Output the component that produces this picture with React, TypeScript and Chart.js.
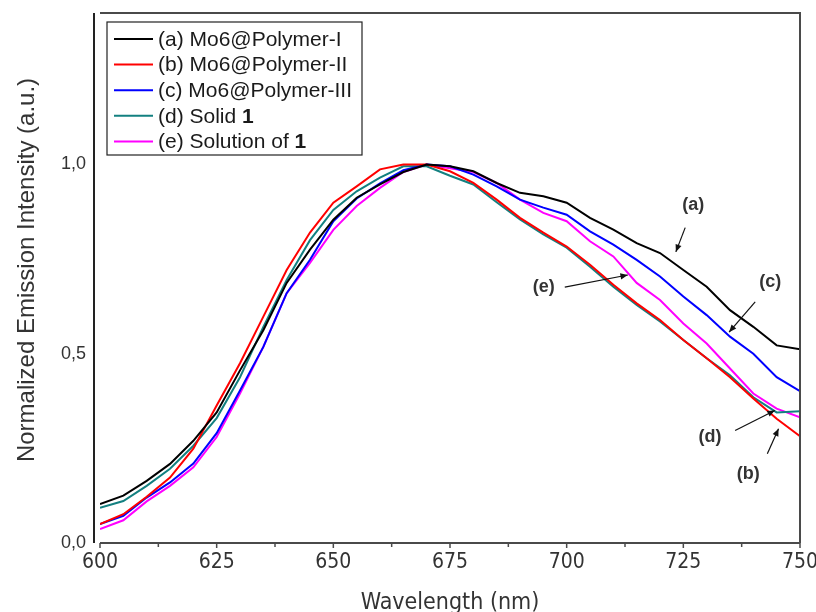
import React, { useEffect, useRef } from "react";
import { Chart, registerables } from "chart.js";

Chart.register(...registerables);

const wavelengths = [600, 605, 610, 615, 620, 625, 630, 635, 640, 645, 650, 655, 660, 665, 670, 675, 680, 685, 690, 695, 700, 705, 710, 715, 720, 725, 730, 735, 740, 745, 750];

const polymerI = [0.103, 0.125, 0.164, 0.209, 0.270, 0.345, 0.456, 0.562, 0.687, 0.775, 0.854, 0.912, 0.947, 0.980, 1.0, 0.995, 0.982, 0.951, 0.925, 0.916, 0.899, 0.859, 0.828, 0.792, 0.766, 0.721, 0.677, 0.615, 0.571, 0.522, 0.512];
const polymerII = [0.050, 0.076, 0.122, 0.173, 0.249, 0.363, 0.475, 0.598, 0.721, 0.820, 0.899, 0.942, 0.987, 1.0, 1.0, 0.982, 0.951, 0.907, 0.859, 0.820, 0.783, 0.735, 0.682, 0.633, 0.589, 0.536, 0.488, 0.438, 0.382, 0.328, 0.282];
const polymerIII = [0.050, 0.072, 0.120, 0.160, 0.210, 0.290, 0.403, 0.518, 0.660, 0.748, 0.850, 0.910, 0.950, 0.985, 1.0, 0.995, 0.973, 0.942, 0.907, 0.886, 0.867, 0.823, 0.788, 0.748, 0.704, 0.651, 0.602, 0.545, 0.500, 0.438, 0.401];
const solid1 = [0.093, 0.111, 0.151, 0.196, 0.257, 0.330, 0.438, 0.571, 0.695, 0.800, 0.880, 0.929, 0.965, 0.995, 0.995, 0.970, 0.947, 0.900, 0.855, 0.815, 0.780, 0.730, 0.677, 0.629, 0.585, 0.536, 0.488, 0.443, 0.385, 0.345, 0.348];
const solution1 = [0.037, 0.060, 0.110, 0.151, 0.200, 0.280, 0.395, 0.518, 0.660, 0.740, 0.827, 0.890, 0.938, 0.980, 1.0, 0.990, 0.980, 0.951, 0.907, 0.872, 0.850, 0.797, 0.757, 0.687, 0.642, 0.580, 0.527, 0.461, 0.395, 0.355, 0.332];

const seriesLabels = ["(a) Mo6@Polymer-I", "(b) Mo6@Polymer-II", "(c) Mo6@Polymer-III", "(d) Solid ", "(e) Solution of "];
const seriesBoldSuffix = ["", "", "", "1", "1"];
const seriesColors = ["#000000", "#ff0000", "#0000ff", "#138080", "#ff00ff"];
const seriesValues = [polymerI, polymerII, polymerIII, solid1, solution1];

const xTicks = [600, 625, 650, 675, 700, 725, 750];
const yTicks = [0, 0.5, 1.0];

// annotation: label position and arrow (start -> end) in data coordinates
const annotationLabels = ["(a)", "(c)", "(e)", "(d)", "(b)"];
const annotationLabelPos = [[727.1, 0.894], [743.6, 0.69], [695.1, 0.676], [730.7, 0.279], [738.9, 0.183]];
const annotationArrows = [
  [725.4, 0.833, 723.4, 0.769],
  [740.4, 0.637, 734.8, 0.557],
  [699.6, 0.676, 713.1, 0.708],
  [736.1, 0.297, 744.6, 0.35],
  [743.0, 0.236, 745.4, 0.302],
];

const SANS = "'Liberation Sans', Arial, sans-serif";
const NARROW = "'Liberation Sans Narrow', 'Arial Narrow', 'DejaVu Sans Condensed', sans-serif";

const zeroPad = (s: any) => {
  s.paddingLeft = 0;
  s.paddingRight = 0;
  s.paddingTop = 0;
  s.paddingBottom = 0;
};

const decorPlugin = {
  id: "decor",
  afterDatasetsDraw(chart: any) {
    const ctx = chart.ctx;
    const ca = chart.chartArea;
    const xs = chart.scales.x;
    const ys = chart.scales.y;
    ctx.save();
    // frame
    ctx.strokeStyle = "#4a4a4a";
    ctx.lineWidth = 2;
    ctx.beginPath();
    ctx.moveTo(ca.left, ca.top);
    ctx.lineTo(ca.right, ca.top);
    ctx.lineTo(ca.right, ca.bottom);
    ctx.stroke();
    ctx.beginPath();
    ctx.moveTo(ca.left, ca.bottom);
    ctx.lineTo(ca.right, ca.bottom);
    ctx.stroke();
    // offset left axis
    ctx.strokeStyle = "#222";
    ctx.beginPath();
    ctx.moveTo(ca.left - 6, ca.top);
    ctx.lineTo(ca.left - 6, ca.bottom);
    ctx.stroke();
    // x ticks (major + minor)
    ctx.strokeStyle = "#4a4a4a";
    ctx.lineWidth = 1.5;
    for (let v = 600; v <= 750; v += 12.5) {
      const px = xs.getPixelForValue(v);
      const major = Math.abs((v - 600) % 25) < 0.01;
      ctx.beginPath();
      ctx.moveTo(px, ca.bottom);
      ctx.lineTo(px, ca.bottom + (major ? 5 : 4));
      ctx.stroke();
    }
    // annotations
    ctx.fillStyle = "#333";
    ctx.font = `bold 18px ${SANS}`;
    ctx.textAlign = "center";
    ctx.textBaseline = "middle";
    annotationLabels.forEach((t, i) => {
      const [lx, ly] = annotationLabelPos[i];
      ctx.fillText(t, xs.getPixelForValue(lx), ys.getPixelForValue(ly));
    });
    ctx.strokeStyle = "#111";
    ctx.fillStyle = "#111";
    ctx.lineWidth = 1.2;
    annotationArrows.forEach(([x1, y1, x2, y2]) => {
      const a1 = xs.getPixelForValue(x1), b1 = ys.getPixelForValue(y1);
      const a2 = xs.getPixelForValue(x2), b2 = ys.getPixelForValue(y2);
      const ang = Math.atan2(b2 - b1, a2 - a1);
      ctx.beginPath();
      ctx.moveTo(a1, b1);
      ctx.lineTo(a2, b2);
      ctx.stroke();
      const L = 8, w = 0.4;
      ctx.beginPath();
      ctx.moveTo(a2, b2);
      ctx.lineTo(a2 - L * Math.cos(ang - w), b2 - L * Math.sin(ang - w));
      ctx.lineTo(a2 - L * Math.cos(ang + w), b2 - L * Math.sin(ang + w));
      ctx.closePath();
      ctx.fill();
    });
    // legend
    const lx = ca.left + 7, ly = ca.top + 9, lw = 255, lh = 133;
    ctx.strokeStyle = "#222";
    ctx.lineWidth = 1.2;
    ctx.fillStyle = "#fff";
    ctx.fillRect(lx, ly, lw, lh);
    ctx.strokeRect(lx, ly, lw, lh);
    ctx.textAlign = "left";
    ctx.textBaseline = "middle";
    seriesLabels.forEach((lab, i) => {
      const ry = ly + 17 + i * 25.6;
      ctx.strokeStyle = seriesColors[i];
      ctx.lineWidth = 2;
      ctx.beginPath();
      ctx.moveTo(lx + 7, ry);
      ctx.lineTo(lx + 46, ry);
      ctx.stroke();
      ctx.fillStyle = "#1a1a1a";
      ctx.font = `21px ${SANS}`;
      ctx.fillText(lab, lx + 51, ry + 1);
      if (seriesBoldSuffix[i]) {
        const w = ctx.measureText(lab).width;
        ctx.font = `bold 21px ${SANS}`;
        ctx.fillText(seriesBoldSuffix[i], lx + 51 + w, ry + 1);
      }
    });
    // axis titles
    ctx.fillStyle = "#333";
    ctx.font = `24px ${SANS}`;
    ctx.textAlign = "center";
    ctx.save();
    ctx.translate(27, 270);
    ctx.rotate(-Math.PI / 2);
    ctx.fillText("Normalized Emission Intensity (a.u.)", 0, 0);
    ctx.restore();
    ctx.font = `23px ${NARROW}`;
    ctx.fillText("Wavelength (nm)", (ca.left + ca.right) / 2, 603);
    ctx.restore();
  },
};

export default function App() {
  const ref = useRef<HTMLCanvasElement>(null);
  useEffect(() => {
    if (!ref.current) return;
    const chart = new Chart(ref.current, {
      type: "line",
      data: {
        datasets: seriesValues.map((vals, i) => ({
          label: seriesLabels[i] + seriesBoldSuffix[i],
          data: wavelengths.map((w, j) => ({ x: w, y: vals[j] })),
          borderColor: seriesColors[i],
          backgroundColor: seriesColors[i],
          borderWidth: 2,
          pointRadius: 0,
          tension: 0,
          fill: false,
        })),
      },
      options: {
        animation: false,
        responsive: false,
        devicePixelRatio: 1,
        layout: { padding: { left: 0, right: 16, top: 13, bottom: 0 } },
        plugins: { legend: { display: false }, tooltip: { enabled: false }, title: { display: false } },
        scales: {
          x: {
            type: "linear",
            min: 600,
            max: 750,
            grid: { display: false, drawTicks: false },
            border: { display: false },
            afterBuildTicks: (s: any) => { s.ticks = xTicks.map((v) => ({ value: v })); },
            afterFit: (s: any) => { s.height = 69; zeroPad(s); },
            ticks: {
              padding: 7,
              color: "#333",
              font: { family: NARROW, size: 21 },
              callback: (v: any) => String(v),
              maxRotation: 0,
            },
          },
          y: {
            type: "linear",
            min: 0,
            max: 1.4,
            grid: { display: false, drawTicks: false },
            border: { display: false },
            afterBuildTicks: (s: any) => { s.ticks = yTicks.map((v) => ({ value: v })); },
            afterFit: (s: any) => { s.width = 100; zeroPad(s); },
            ticks: {
              padding: 14,
              color: "#333",
              font: { family: SANS, size: 18 },
              callback: (v: any) => Number(v).toFixed(1).replace(".", ","),
            },
          },
        },
      },
      plugins: [decorPlugin],
    });
    return () => chart.destroy();
  }, []);
  return (
    <div style={{ position: "absolute", left: 0, top: 0, width: 816, height: 612, background: "#fff" }}>
      <canvas ref={ref} width={816} height={612} />
    </div>
  );
}
